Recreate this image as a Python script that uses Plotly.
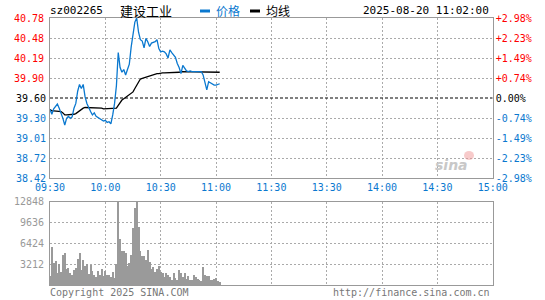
import plotly.graph_objects as go

W, H = 545, 300
prev_close = 39.60
stock_code = "sz002265"
stock_name = "建设工业"
timestamp = "2025-08-20 11:02:00"

price = [39.43, 39.36, 39.44, 39.48, 39.51, 39.45, 39.38, 39.30, 39.20, 39.30,
         39.33, 39.30, 39.32, 39.45, 39.52, 39.70, 39.80, 39.74, 39.80, 39.62,
         39.52, 39.45, 39.40, 39.35, 39.38, 39.33, 39.31, 39.29, 39.28, 39.26,
         39.27, 39.24, 39.25, 39.22, 39.35, 39.52, 39.78, 40.27, 40.05, 39.98,
         40.02, 39.94, 40.02, 40.10, 40.35, 40.55, 40.72, 40.78, 40.57, 40.46,
         40.44, 40.34, 40.48, 40.43, 40.36, 40.41, 40.42, 40.43, 40.46, 40.33,
         40.28, 40.29, 40.28, 40.25, 40.19, 40.31, 40.27, 40.23, 40.20, 40.11,
         40.05, 39.96, 40.08, 40.04, 40.00, 39.99, 40.00, 39.99, 39.99, 39.99,
         39.99, 39.99, 39.99, 39.94, 39.82, 39.72, 39.84, 39.82, 39.80, 39.79,
         39.79, 39.80, 39.81]

avg_line = [39.43, 39.41, 39.41, 39.41, 39.40, 39.40, 39.40, 39.38, 39.35, 39.35,
            39.35, 39.35, 39.35, 39.36, 39.37, 39.39, 39.42, 39.44, 39.45, 39.46,
            39.46, 39.46, 39.46, 39.46, 39.46, 39.46, 39.45, 39.45, 39.45, 39.44,
            39.44, 39.44, 39.44, 39.44, 39.44, 39.44, 39.45, 39.49, 39.54, 39.57,
            39.59, 39.61, 39.62, 39.64, 39.66, 39.69, 39.74, 39.79, 39.85, 39.88,
            39.89, 39.90, 39.91, 39.92, 39.93, 39.94, 39.95, 39.95, 39.96, 39.96,
            39.97, 39.97, 39.97, 39.97, 39.97, 39.98, 39.98, 39.98, 39.98, 39.98,
            39.98, 39.99, 39.99, 39.99, 39.99, 39.99, 39.99, 39.99, 39.99, 39.99,
            39.99, 39.99, 39.99, 39.99, 39.99, 39.99, 39.99, 39.99, 39.99, 39.99,
            39.99, 39.99, 39.98]

volume = [1390, 5910, 3440, 3700, 1900, 3240, 2000, 4620, 4930, 2470,
          2670, 1900, 1540, 2310, 2620, 4010, 4930, 2310, 3850, 2930,
          3240, 1700, 3080, 2160, 1540, 1230, 2160, 1540, 2470, 1390,
          2160, 1540, 1540, 1230, 2000, 1080, 3240, 12848, 7140, 5240,
          5240, 4930, 2930, 3390, 4620, 8790, 11920, 12848, 8990, 5240,
          4470, 4470, 3850, 5400, 3550, 2470, 2780, 2000, 2470, 2930,
          2000, 1850, 1230, 1850, 1540, 1230, 770, 1850, 1080, 770,
          2310, 1850, 1230, 1850, 920, 1390, 770, 770, 1540, 1230,
          920, 770, 620, 2780, 1540, 1390, 1390, 770, 770, 920,
          1080, 600, 460]

minutes = list(range(len(price)))

x_tick_vals = [0, 30, 60, 90, 120, 150, 180, 210, 240]
x_tick_text = ["09:30", "10:00", "10:30", "11:00", "11:30", "13:30", "14:00", "14:30", "15:00"]
price_up_labels = ["39.90", "40.19", "40.48", "40.78"]
price_down_labels = ["39.30", "39.01", "38.72", "38.42"]
pct_up_labels = ["+0.74%", "+1.49%", "+2.23%", "+2.98%"]
pct_down_labels = ["-0.74%", "-1.49%", "-2.23%", "-2.98%"]
vol_max = 12848
vol_tick_labels = ["3212", "6424", "9636", "12848"]

RED = "#ff0000"
BLUE = "#0a78cf"
GRAY = "#999999"
GRID = "#aaaaaa"
MONO = "DejaVu Sans Mono"

step = 1.18 / 4
up_vals = [prev_close + step * k for k in range(1, 5)]
down_vals = [prev_close - step * k for k in range(1, 5)]
p_lo, p_hi = prev_close - 4 * step, prev_close + 4 * step
pct = lambda v: (v - prev_close) / prev_close * 100
vol_vals = [vol_max / 4 * k for k in range(1, 5)]

def px_x(X):
    return X / W

def px_y(Y):
    return 1 - Y / H

dom_x = [px_x(50), px_x(492.7)]
dom_main = [px_y(178), px_y(18)]
dom_vol = [px_y(285), px_y(201.7)]

fig = go.Figure()
fig.add_trace(go.Bar(x=minutes, y=volume, marker=dict(color="#9a9a9a", line=dict(width=0)),
                     width=0.55, xaxis="x2", yaxis="y2", showlegend=False))
fig.add_trace(go.Scatter(x=[0, 240], y=[prev_close, prev_close], mode="lines",
                         line=dict(color="black", width=1, dash="3px,2px"), showlegend=False))
fig.add_trace(go.Scatter(x=minutes, y=avg_line, mode="lines",
                         line=dict(color="black", width=1.3), showlegend=False))
fig.add_trace(go.Scatter(x=minutes, y=price, mode="lines",
                         line=dict(color=BLUE, width=1.3), showlegend=False))
for ax in ["y3", "y4", "y5", "y6", "y7"]:
    fig.add_trace(go.Scatter(x=[None], y=[None], yaxis=ax, showlegend=False, hoverinfo="skip"))

grid = dict(showgrid=True, gridcolor=GRID, griddash="2px,2px", gridwidth=1)
frame = dict(showline=True, linecolor=GRAY, linewidth=1, mirror=True)
tf = lambda c: dict(family=MONO, size=10, color=c)
base = dict(automargin=False, ticks="", zeroline=False)

fig.update_layout(
    width=W, height=H, autosize=False,
    margin=dict(l=0, r=0, t=0, b=0, autoexpand=False),
    paper_bgcolor="white", plot_bgcolor="white",
    bargap=0,
    xaxis=dict(domain=dom_x, anchor="y", range=[0, 240], tickvals=x_tick_vals, ticktext=x_tick_text,
               tickfont=tf(BLUE), **base, **grid, **frame),
    yaxis=dict(domain=dom_main, anchor="x", range=[p_lo, p_hi], tickvals=up_vals, ticktext=price_up_labels,
               tickfont=tf(RED), ticklabelstandoff=3, **base, **grid, **frame),
    yaxis3=dict(overlaying="y", anchor="x", range=[p_lo, p_hi], tickvals=[prev_close], ticktext=["39.60"],
                tickfont=tf("black"), showgrid=False, ticklabelstandoff=3, **base),
    yaxis4=dict(overlaying="y", anchor="x", range=[p_lo, p_hi], tickvals=down_vals, ticktext=price_down_labels,
                tickfont=tf(BLUE), ticklabelstandoff=3, **base, **grid),
    yaxis5=dict(overlaying="y", anchor="x", side="right", range=[pct(p_lo), pct(p_hi)],
                tickvals=[pct(v) for v in up_vals], ticktext=pct_up_labels, tickfont=tf(RED),
                showgrid=False, ticklabelstandoff=2, **base),
    yaxis6=dict(overlaying="y", anchor="x", side="right", range=[pct(p_lo), pct(p_hi)],
                tickvals=[0], ticktext=["0.00%"], tickfont=tf("black"),
                showgrid=False, ticklabelstandoff=2, **base),
    yaxis7=dict(overlaying="y", anchor="x", side="right", range=[pct(p_lo), pct(p_hi)],
                tickvals=[pct(v) for v in down_vals], ticktext=pct_down_labels, tickfont=tf(BLUE),
                showgrid=False, ticklabelstandoff=2, **base),
    xaxis2=dict(domain=dom_x, anchor="y2", range=[0, 240], tickvals=x_tick_vals, showticklabels=False,
                **base, **grid, **frame),
    yaxis2=dict(domain=dom_vol, anchor="x2", range=[0, vol_max], tickvals=vol_vals, ticktext=vol_tick_labels,
                tickfont=tf(GRAY), ticklabelstandoff=3, **base, **grid, **frame),
)

ann = []
def txt(X, Y, s, color, size=10, family=MONO, xanchor="left"):
    ann.append(dict(x=px_x(X), y=px_y(Y), xref="paper", yref="paper", text=s, showarrow=False,
                    xanchor=xanchor, yanchor="middle", font=dict(family=family, size=size, color=color)))

txt(48, 11, stock_code, "black", size=11)
txt(118, 11, stock_name, "black", size=13, family="Noto Sans CJK SC")
txt(214, 11, "价格", BLUE, size=12, family="Noto Sans CJK SC")
txt(264, 11, "均线", "black", size=12, family="Noto Sans CJK SC")
txt(491, 11, timestamp, "black", size=11, xanchor="right")
txt(48, 292, "Copyright 2025 SINA.COM", "#777777", size=10)
txt(492, 292, "http://finance.sina.com.cn", "#777777", size=10, xanchor="right")
ann.append(dict(x=px_x(470), y=px_y(165), xref="paper", yref="paper", text="<b><i>sina</i></b>",
                showarrow=False, font=dict(family="DejaVu Sans", size=14, color="#c8c8c8")))
fig.update_layout(annotations=ann)

fig.update_layout(shapes=[
    dict(type="line", xref="paper", yref="paper", x0=px_x(200), x1=px_x(210), y0=px_y(11), y1=px_y(11),
         line=dict(color=BLUE, width=3)),
    dict(type="line", xref="paper", yref="paper", x0=px_x(250), x1=px_x(260), y0=px_y(11), y1=px_y(11),
         line=dict(color="black", width=3)),
    dict(type="circle", xref="paper", yref="paper", x0=px_x(464), x1=px_x(474), y0=px_y(160), y1=px_y(151),
         line=dict(width=0), fillcolor="rgba(240,150,150,0.5)"),
])

fig.write_html("out.html", config={"displayModeBar": False},
               post_script="document.body.style.margin='0';document.body.style.overflow='hidden';")
